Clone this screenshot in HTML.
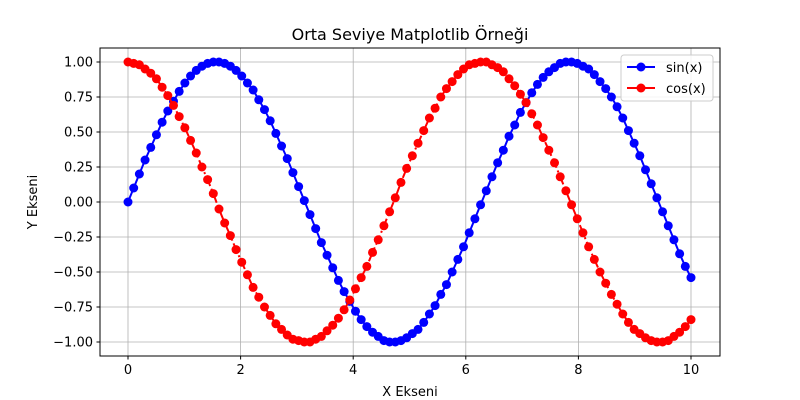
<!DOCTYPE html>
<html><head><meta charset="utf-8"><style>
body{margin:0;background:#fff;}
svg{display:block;font-family:"DejaVu Sans","Liberation Sans",sans-serif;}
</style></head><body>
<svg id="chart" width="800" height="400">
<rect width="800" height="400" fill="#fff"/>
<text x="410" y="40" font-size="16" text-anchor="middle">Orta Seviye Matplotlib Örneği</text>
<g id="grid"></g>
<g id="series"></g>
<rect x="100" y="48" width="620" height="308" fill="none" stroke="#000" stroke-width="1"/>
<g id="axes"></g>
<text x="410" y="396" font-size="13" text-anchor="middle">X Ekseni</text>
<text transform="translate(37,202) rotate(-90)" font-size="13" text-anchor="middle">Y Ekseni</text>
<g>
<rect x="621" y="55" width="92" height="46" rx="3" fill="#fff" fill-opacity="0.85" stroke="#ccc"/>
<g>
<line x1="627" y1="67" x2="655" y2="67" stroke="#0000ff" stroke-width="2"/>
<circle cx="641" cy="67" r="4.5" fill="#0000ff"/>
<text x="666" y="72" font-size="13">sin(x)</text></g>
<g>
<line x1="627" y1="88" x2="655" y2="88" stroke="#ff0000" stroke-width="2" stroke-dasharray="10,3,2,3"/>
<circle cx="641" cy="88" r="4.5" fill="#ff0000"/>
<text x="666" y="93" font-size="13">cos(x)</text></g>
</g>
</svg>
<script>
const xTicks=[0,2,4,6,8,10];
const yTicks=[-1.00,-0.75,-0.50,-0.25,0.00,0.25,0.50,0.75,1.00];
const sinValues=[0,.10,.20,.30,.39,.48,.57,.65,.72,.79,.85,.90,.94,.97,.99,1.00,1.00,.99,.97,.94,.90,.85,.80,.73,.66,.58,.49,.40,.31,.21,.11,.01,-.09,-.19,-.29,-.38,-.47,-.56,-.64,-.71,-.78,-.84,-.89,-.93,-.96,-.99,-1.00,-1.00,-.99,-.97,-.94,-.91,-.86,-.80,-.74,-.66,-.59,-.50,-.41,-.32,-.22,-.12,-.02,.08,.18,.28,.37,.47,.55,.64,.71,.78,.84,.89,.93,.96,.99,1.00,1.00,.99,.97,.95,.91,.86,.81,.75,.68,.60,.51,.42,.33,.23,.13,.03,-.07,-.17,-.27,-.37,-.46,-.54];
const cosValues=[1,.99,.98,.95,.92,.88,.82,.76,.69,.61,.53,.44,.35,.25,.16,.06,-.05,-.15,-.24,-.34,-.43,-.52,-.61,-.68,-.75,-.81,-.87,-.91,-.95,-.98,-.99,-1.00,-1.00,-.98,-.96,-.92,-.88,-.83,-.77,-.70,-.62,-.54,-.46,-.36,-.27,-.17,-.07,.03,.14,.24,.33,.42,.51,.60,.67,.75,.81,.86,.91,.95,.98,.99,1.00,1.00,.98,.96,.93,.88,.83,.77,.71,.63,.55,.46,.37,.28,.18,.08,-.02,-.12,-.22,-.32,-.41,-.50,-.58,-.66,-.73,-.80,-.86,-.91,-.94,-.97,-.99,-1.00,-1.00,-.99,-.96,-.93,-.89,-.84];
const xMin=0,xMax=10;
const X=v=>128+(v-0)*56.3;
const Y=v=>202-v*140;
const NS="http://www.w3.org/2000/svg";
function mk(tag,attrs,parent){const e=document.createElementNS(NS,tag);for(const k in attrs)e.setAttribute(k,attrs[k]);parent.appendChild(e);return e;}
const grid=document.getElementById('grid'),axes=document.getElementById('axes'),series=document.getElementById('series');
xTicks.forEach(t=>{
 const g=mk('line',{x1:X(t),x2:X(t),y1:48,y2:356,stroke:'#b0b0b0','stroke-width':0.8},grid);
 
 
 mk('line',{x1:X(t),x2:X(t),y1:356,y2:359.5,stroke:'#000'},axes);
 const l=mk('text',{x:X(t),y:374,'font-size':13,'text-anchor':'middle'},axes);
 l.textContent=t;
 
 
});
yTicks.forEach(t=>{
 const g=mk('line',{x1:100,x2:720,y1:Y(t),y2:Y(t),stroke:'#b0b0b0','stroke-width':0.8},grid);
 
 
 mk('line',{x1:96.5,x2:100,y1:Y(t),y2:Y(t),stroke:'#000'},axes);
 const l=mk('text',{x:93,y:Y(t)+4.5,'font-size':13,'text-anchor':'end'},axes);
 l.textContent=t.toFixed(2).replace('-','−');
 
 
});
function draw(vals,color,dash,name){
 const n=vals.length;
 const xs=vals.map((v,i)=>xMin+(xMax-xMin)*i/(n-1));
 const g=mk('g',{},series);
 
 
 const p=mk('polyline',{points:vals.map((v,i)=>X(xs[i])+','+Y(v)).join(' '),fill:'none',stroke:color,'stroke-width':2,'stroke-dasharray':dash},g);
 
 
 vals.forEach((v,i)=>{
  const c=mk('circle',{cx:X(xs[i]),cy:Y(v),r:4.5,fill:color},g);
  
  
 });
}
draw(sinValues,'#0000ff','none','sin');
draw(cosValues,'#ff0000','10,3,2,3','cos');
</script>
</body></html>
